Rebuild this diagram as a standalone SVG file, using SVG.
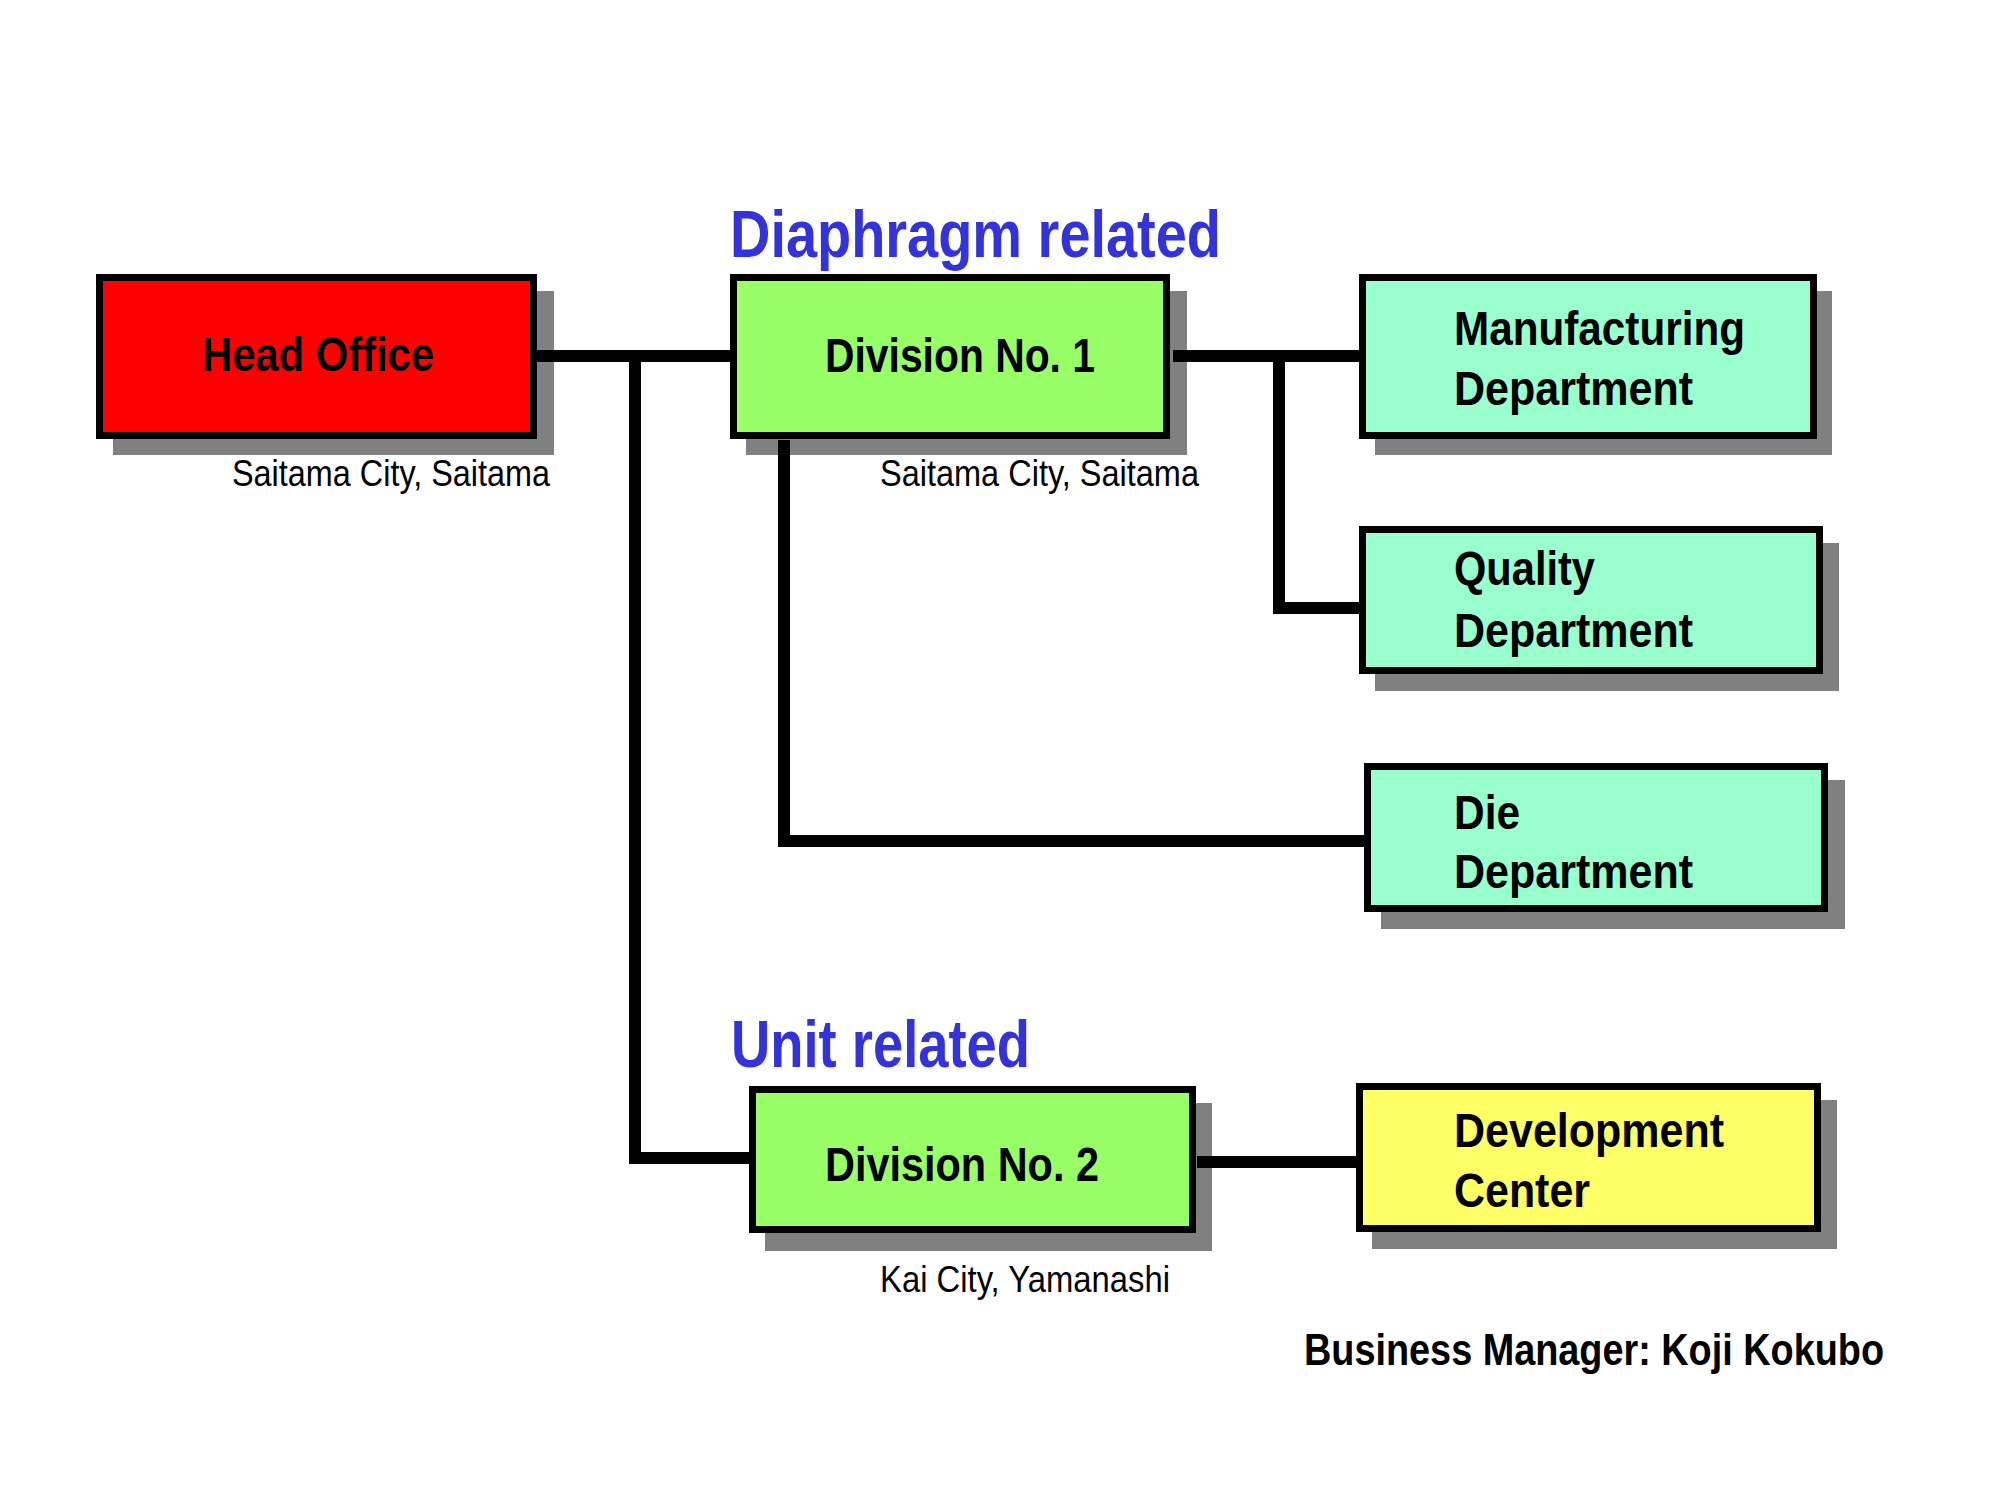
<svg xmlns="http://www.w3.org/2000/svg" width="2000" height="1500" viewBox="0 0 2000 1500">
<style>
.sh{fill:#808080}
.box{stroke:#000;stroke-width:7}
.red{fill:#FF0000}.grn{fill:#99FF66}.aqua{fill:#99FFCC}.yel{fill:#FFFF66}
.t{font-family:"Liberation Sans",Arial,sans-serif;font-weight:bold;font-size:48px;fill:#000}
.sub{font-family:"Liberation Sans",Arial,sans-serif;font-size:36px;fill:#000}
.hd{font-family:"Liberation Sans",Arial,sans-serif;font-weight:bold;font-size:67px;fill:#3333DD}
.bm{font-family:"Liberation Sans",Arial,sans-serif;font-weight:bold;font-size:45px;fill:#000}
.c{fill:none;stroke:#000;stroke-width:12;stroke-linejoin:miter;stroke-linecap:butt}
</style>
<rect width="2000" height="1500" fill="#fff"/>
<g id="head-office">
<rect class="sh" x="113" y="291" width="441" height="164"/>
<rect class="box red" x="99.5" y="277.5" width="434" height="158"/>
<text class="t" x="318" y="371" text-anchor="middle" textLength="232" lengthAdjust="spacingAndGlyphs">Head Office</text>
<text class="sub" x="232" y="486" textLength="318" lengthAdjust="spacingAndGlyphs">Saitama City, Saitama</text>
</g>
<g id="division-1">
<rect class="sh" x="746" y="291" width="441" height="164"/>
<rect class="box grn" x="733.5" y="277.5" width="433" height="158"/>
<text class="t" x="825" y="372" textLength="270" lengthAdjust="spacingAndGlyphs">Division No. 1</text>
<text class="sub" x="880" y="486" textLength="319" lengthAdjust="spacingAndGlyphs">Saitama City, Saitama</text>
</g>
<g id="manufacturing">
<rect class="sh" x="1375" y="291" width="457" height="164"/>
<rect class="box aqua" x="1362.5" y="277.5" width="451" height="158"/>
<text class="t" x="1454" y="345" textLength="291" lengthAdjust="spacingAndGlyphs">Manufacturing</text>
<text class="t" x="1454" y="405" textLength="239" lengthAdjust="spacingAndGlyphs">Department</text>
</g>
<g id="quality">
<rect class="sh" x="1375" y="543" width="464" height="148"/>
<rect class="box aqua" x="1362.5" y="529.5" width="457" height="141"/>
<text class="t" x="1454" y="585" textLength="141" lengthAdjust="spacingAndGlyphs">Quality</text>
<text class="t" x="1454" y="647" textLength="239" lengthAdjust="spacingAndGlyphs">Department</text>
</g>
<g id="die">
<rect class="sh" x="1381" y="780" width="464" height="149"/>
<rect class="box aqua" x="1367.5" y="766.5" width="457" height="142"/>
<text class="t" x="1454" y="829" textLength="66" lengthAdjust="spacingAndGlyphs">Die</text>
<text class="t" x="1454" y="888" textLength="239" lengthAdjust="spacingAndGlyphs">Department</text>
</g>
<text class="hd" x="730" y="257" textLength="491" lengthAdjust="spacingAndGlyphs">Diaphragm related</text>
<text class="hd" x="731" y="1067" textLength="299" lengthAdjust="spacingAndGlyphs">Unit related</text>
<g id="division-2">
<rect class="sh" x="765" y="1103" width="447" height="148"/>
<rect class="box grn" x="752.5" y="1089.5" width="440" height="140"/>
<text class="t" x="825" y="1181" textLength="274" lengthAdjust="spacingAndGlyphs">Division No. 2</text>
<text class="sub" x="880" y="1292" textLength="290" lengthAdjust="spacingAndGlyphs">Kai City, Yamanashi</text>
</g>
<g id="development-center">
<rect class="sh" x="1372" y="1100" width="465" height="149"/>
<rect class="box yel" x="1359.5" y="1086.5" width="458" height="142"/>
<text class="t" x="1454" y="1147" textLength="270" lengthAdjust="spacingAndGlyphs">Development</text>
<text class="t" x="1454" y="1207" textLength="136" lengthAdjust="spacingAndGlyphs">Center</text>
</g>
<text class="bm" x="1304" y="1365" textLength="580" lengthAdjust="spacingAndGlyphs">Business Manager: Koji Kokubo</text>
<g id="connectors">
<path class="c" d="M530 356 H733"/>
<path class="c" d="M635 356 V1158 H752"/>
<path class="c" d="M1173 356 H1362"/>
<path class="c" d="M1279 356 V608 H1362"/>
<path class="c" d="M784 440 V841 H1367"/>
<path class="c" d="M1197 1162 H1359"/>
</g>
</svg>
